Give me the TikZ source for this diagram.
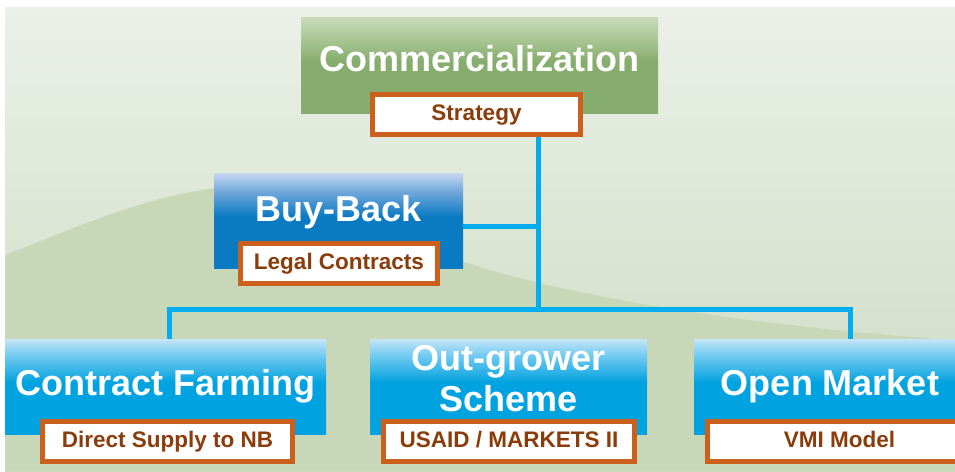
\documentclass[tikz,border=0pt]{standalone}
\usepackage{fontspec}
\setmainfont{Liberation Sans}
\usepackage{xcolor}
\usepackage{tikz}
\usetikzlibrary{calc}

\definecolor{bgtop}{HTML}{EBF0E8}
\definecolor{bgbottom}{HTML}{CCDBC0}
\definecolor{hillgreen}{HTML}{C7D7B8}
\definecolor{leafgreen}{HTML}{86AD6D}
\definecolor{leafmid}{HTML}{A5C38F}
\definecolor{leaflight}{HTML}{C8DBB9}
\definecolor{skyblue}{HTML}{00A2DF}
\definecolor{skymid}{HTML}{6FC9F0}
\definecolor{skylight}{HTML}{C4E5F8}
\definecolor{deepblue}{HTML}{0A7AC3}
\definecolor{deepmid}{HTML}{6FA6DA}
\definecolor{deeplight}{HTML}{C6D8EF}
\definecolor{rustframe}{HTML}{CB601C}
\definecolor{rusttext}{HTML}{8A3C0B}
\definecolor{wireblue}{HTML}{00AEEF}

\pgfdeclareverticalshading{glossgreen}{100bp}{color(0bp)=(leafgreen); color(25bp)=(leafgreen); color(52bp)=(leafgreen); color(62bp)=(leafmid); color(75bp)=(leaflight); color(100bp)=(leaflight)}
\pgfdeclareverticalshading{glossblue}{100bp}{color(0bp)=(skyblue); color(25bp)=(skyblue); color(52bp)=(skyblue); color(66bp)=(skymid); color(75bp)=(skylight); color(100bp)=(skylight)}
\pgfdeclareverticalshading{glossdeep}{100bp}{color(0bp)=(deepblue); color(25bp)=(deepblue); color(52bp)=(deepblue); color(65bp)=(deepmid); color(75bp)=(deeplight); color(100bp)=(deeplight)}

\begin{document}
\begin{tikzpicture}[x=1pt, y=-1pt,
    panel/.style={shade, inner sep=0pt, minimum height=95pt},
    greenpanel/.style={panel, shading=glossgreen},
    bluepanel/.style={panel, shading=glossblue},
    deeppanel/.style={panel, shading=glossdeep},
    headtext/.style={text=white, font=\bfseries\fontsize{36}{41}\selectfont,
      align=center, inner sep=0pt},
    tagbox/.style={draw=rustframe, line width=5pt, fill=white, text=rusttext,
      font=\bfseries\fontsize{22.5}{24}\selectfont, text height=16pt,
      text depth=4.5pt, minimum height=40pt, inner sep=0pt},
    wire/.style={draw=wireblue, line width=5pt}]
      \useasboundingbox (0,0) rectangle (955,471);
      % backdrop
      \fill[white] (0,0) rectangle (955,471);
      \shade[top color=bgtop, bottom color=bgbottom] (5,7) rectangle (955,471);
      \fill[hillgreen] (5,255) .. controls (90,222) and (160,190) .. (240,186)
        .. controls (330,185) and (400,240) .. (470,264)
        .. controls (600,305) and (800,330) .. (955,340) -- (955,471) -- (5,471) -- cycle;
      % panels
      \node[greenpanel, minimum height=96pt, minimum width=357pt] (comm) at (479.5,65) {};
      \node[deeppanel, minimum width=249pt] (buy) at (338.5,220.5) {};
      \node[bluepanel, minimum width=321pt] (cf) at (165.5,386.5) {};
      \node[bluepanel, minimum width=277pt] (og) at (508.5,386.5) {};
      \node[bluepanel, minimum width=272pt] (om) at (830,386.5) {};
      \node[headtext, anchor=base] (commtxt) at ($(comm.center)+(0,6)$) {Commercialization};
      \node[headtext, anchor=base] (buytxt) at ($(buy.center)+(0,0.5)$) {Buy-Back};
      \node[headtext, anchor=base] (cftxt) at ($(cf.center)+(0,8.5)$) {Contract Farming};
      \node[headtext] (ogtxt) at ($(og.center)+(0,-8)$) {Out-grower\\Scheme};
      \node[headtext, anchor=base] (omtxt) at ($(om.center)+(0,8.5)$) {Open Market};
      % tags
      \node[tagbox, minimum width=208pt] (strat) at (476.5,114.5) {Strategy};
      \node[tagbox, minimum width=197pt] (legal) at (339,263.5) {Legal Contracts};
      \node[tagbox, minimum width=250pt] (dsup) at (167.5,441.5) {Direct Supply to NB};
      \node[tagbox, minimum width=251pt] (usaid) at (509,441.5) {USAID / MARKETS II};
      \node[tagbox, minimum width=264pt] (vmi) at (839.5,441.5) {VMI Model};
      % links
      \coordinate (hub) at (538,309);
      \draw[wire] (strat.south -| hub) -- (hub);
      \draw[wire] ([yshift=-5.5pt]buy.east) -- ([yshift=-5.5pt]buy.east -| hub);
      \draw[wire] ([xshift=3.5pt]cf.north) |- (hub) -| ([xshift=20pt]om.north);
    \end{tikzpicture}
\end{document}
